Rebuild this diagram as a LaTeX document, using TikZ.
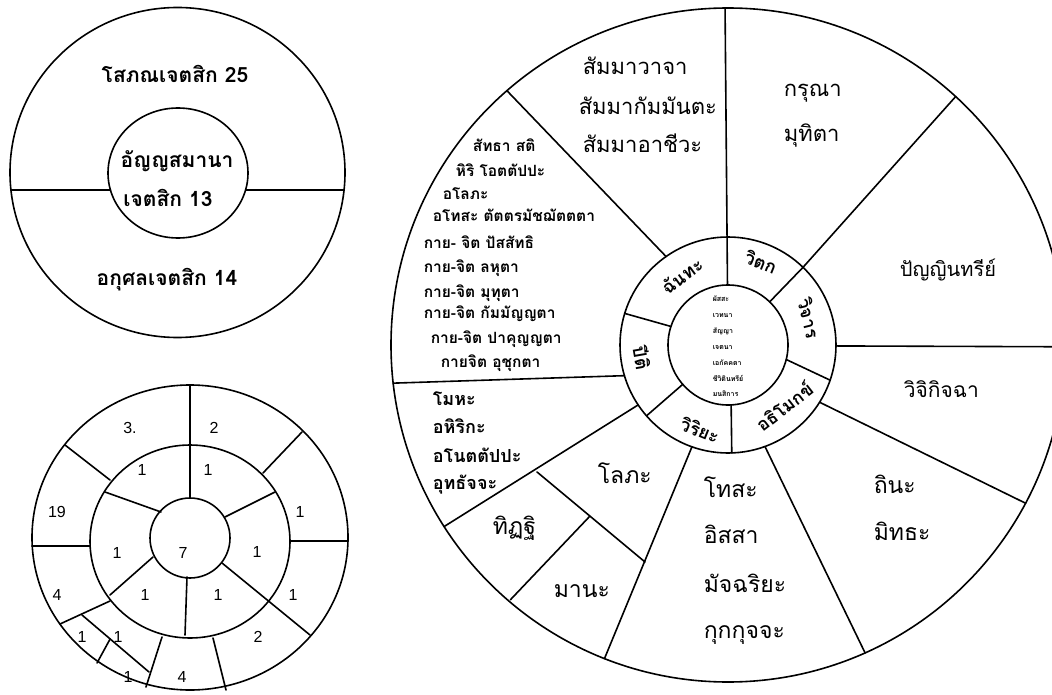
\documentclass[tikz,border=0pt]{standalone}
\usepackage{fontspec}
\newfontfamily\thai[Script=Thai]{Loma}
\newfontfamily\numf{Liberation Sans}
\usetikzlibrary{calc}
\begin{document}
\begin{tikzpicture}[x=1pt,y=-1pt,line width=1.6pt,line cap=round,
  tl/.style={inner sep=0pt,anchor=base,font=\thai\bfseries\fontsize{21}{23}\selectfont},
  bigl/.style={inner sep=0pt,anchor=base west,font=\thai\fontsize{22}{24}\selectfont},
  midl/.style={inner sep=0pt,anchor=base west,font=\thai\fontsize{23}{25}\selectfont},
  mohl/.style={inner sep=0pt,anchor=base west,font=\thai\bfseries\fontsize{18}{20}\selectfont},
  smal/.style={inner sep=0pt,anchor=base west,font=\thai\bfseries\fontsize{15.5}{18}\selectfont},
  ringl/.style={inner sep=0pt,font=\thai\bfseries\fontsize{18}{20}\selectfont},
  tiny/.style={inner sep=0pt,anchor=base west,font=\thai\bfseries\fontsize{7}{8}\selectfont},
  num/.style={inner sep=0pt,font=\numf\fontsize{16}{18}\selectfont}]
\useasboundingbox (0,0) rectangle (1052,695);
\clip (0,0) rectangle (1052,695);

% ---------- top-left circle ----------
\coordinate (TA) at (177.5,172.5);
\coordinate (TB) at (178,173);
\draw (TA) circle [x radius=167.5pt, y radius=165pt];
\draw (TB) circle [x radius=70pt, y radius=65pt];
\coordinate (h1) at (10.9,190); \coordinate (h2) at (110.4,190);
\coordinate (h3) at (245.6,190); \coordinate (h4) at (344.1,190);
\draw (h1) -- (h2); \draw (h3) -- (h4);
\node[tl] (sobhana) at (175,83) {โสภณเจตสิก 25};
\node[tl] (anna1) at (177,168) {อัญญสมานา};
\node[tl] (anna2) at (168,207) {เจตสิก 13};
\node[tl] (akusala) at (167,285) {อกุศลเจตสิก 14};

% ---------- bottom-left wheel ----------
\draw (190,537.5) circle [x radius=158pt, y radius=152.5pt];
\draw (190,541.5) circle [x radius=100pt, y radius=96.5pt];
\draw (190,538) circle (40pt);
\draw (190,385) -- (190,498);
\draw (225,517) -- (275,492);
\draw (302,432) -- (263,473);
\draw (161,512) -- (105,492);
\draw (65,445) -- (110,480);
\draw (290,541) -- (348,541);
\draw (32,546) -- (90,546);
\draw (153,557) -- (110,595);
\draw (187,577) -- (185,635);
\draw (222,563) -- (310,635);
\draw (213,638) -- (226,690);
\draw (162,637) -- (146,687);
\draw (60,624) -- (110,601);
\coordinate (d1) at (82,615); \coordinate (d2) at (149,672);
\draw (d1) -- (d2);
\draw ($(d1)!0.42!(d2)$) -- (97,663);
\node[num] (n3) at (130,428) {3.};
\node[num] (n2a) at (214,428) {2};
\node[num] (n1a) at (142,470) {1};
\node[num] (n1b) at (208,470) {1};
\node[num] (n19) at (57,512) {19};
\node[num] (n1c) at (300,512) {1};
\node[num] (n1d) at (117,553) {1};
\node[num] (n7) at (183,553) {7};
\node[num] (n1e) at (257,552) {1};
\node[num] (n4a) at (57,595) {4};
\node[num] (n1f) at (145,595) {1};
\node[num] (n1g) at (218,595) {1};
\node[num] (n1h) at (293,595) {1};
\node[num] (n1i) at (82,637) {1};
\node[num] (n1j) at (118,637) {1};
\node[num] (n2b) at (258,637) {2};
\node[num] (n1k) at (128,677) {1};
\node[num] (n4b) at (182,677) {4};

% ---------- big wheel ----------
\coordinate (B) at (728,345);
\draw (B) circle (337pt);
\draw (B) circle (108pt);
\draw (B) circle (60pt);
% outer ring spokes
\draw ($(B)+(-90.5:60)$) -- ($(B)+(-90.5:337)$);
\draw ($(B)+(-46:108)$) -- ($(B)+(-47.5:337)$);
\draw ($(B)+(0.5:108)$) -- ($(B)+(0.3:345)$);
\draw ($(B)+(32:108)$) -- ($(B)+(28:337)$);
\draw ($(B)+(70:108)$) -- ($(B)+(66:337)$);
\draw ($(B)+(109.5:108)$) -- ($(B)+(111.5:337)$);
\draw ($(B)+(146.3:108)$) -- ($(B)+(147.4:337)$);
\draw ($(B)+(163.5:108)$) -- ($(B)+(173.5:337)$);
\draw ($(B)+(-125:108)$) -- ($(B)+(-131:337)$);
\coordinate (sa1) at (537,472); \coordinate (sa2) at (645,562);
\draw (sa1) -- (sa2);
\draw ($(sa1)!0.49!(sa2)$) -- ($(B)+(130.5:335)$);
% middle ring spokes
\draw ($(B)+(-46:60)$) -- ($(B)+(-46:108)$);
\draw ($(B)+(14:60)$) -- ($(B)+(19:108)$);
\draw ($(B)+(87:60)$) -- ($(B)+(88:108)$);
\draw ($(B)+(139:60)$) -- ($(B)+(139:108)$);
\draw ($(B)+(-162:60)$) -- ($(B)+(-163:108)$);
% ring labels
\node[ringl,rotate=36] (chanda) at (682,276) {ฉันทะ};
\node[ringl,rotate=-22] (vitakka) at (761,262) {วิตก};
\node[ringl,rotate=-76] (vicara) at (809,318) {วิจาร};
\node[ringl,rotate=38] (adhimokkha) at (784,406) {อธิโมกข์};
\node[ringl,rotate=-22] (viriya) at (700,430) {วิริยะ};
\node[ringl,rotate=-80] (piti) at (642,358) {ปีติ};
% inner text
\node[tiny] (i1) at (712,301) {ผัสสะ};
\node[tiny] (i2) at (712,317) {เวทนา};
\node[tiny] (i3) at (712,333) {สัญญา};
\node[tiny] (i4) at (712,349) {เจตนา};
\node[tiny] (i5) at (712,365) {เอกัคคตา};
\node[tiny] (i6) at (712,381) {ชีวิตินทรีย์};
\node[tiny] (i7) at (712,396) {มนสิการ};
% outer labels
\node[bigl] (v1) at (582,75) {สัมมาวาจา};
\node[bigl] (v2) at (578,115) {สัมมากัมมันตะ};
\node[bigl] (v3) at (582,153) {สัมมาอาชีวะ};
\node[bigl] (k1) at (783,97) {กรุณา};
\node[bigl] (k2) at (783,142) {มุทิตา};
\node[bigl,anchor=base,font=\thai\fontsize{20}{22}\selectfont] (panna) at (948,276) {ปัญญินทรีย์};
\node[midl,font=\thai\fontsize{21}{23}\selectfont] (vici) at (903,397) {วิจิกิจฉา};
\node[midl] (thina) at (873,493) {ถินะ};
\node[midl] (middha) at (873,540) {มิทธะ};
\node[midl] (dosa) at (703,497) {โทสะ};
\node[midl] (issa) at (703,543) {อิสสา};
\node[midl] (macch) at (703,592) {มัจฉริยะ};
\node[midl] (kukk) at (703,638) {กุกกุจจะ};
\node[midl] (lobha) at (597,483) {โลภะ};
\node[midl] (ditthi) at (492,534) {ทิฏฐิ};
\node[midl] (mana) at (553,597) {มานะ};
\node[mohl] (m1) at (432,405) {โมหะ};
\node[mohl] (m2) at (432,433) {อหิริกะ};
\node[mohl] (m3) at (432,462) {อโนตตัปปะ};
\node[mohl] (m4) at (432,489) {อุทธัจจะ};
\node[smal] (s1) at (472,152) {สัทธา สติ};
\node[smal] (s2) at (455,177) {หิริ โอตตัปปะ};
\node[smal] (s3) at (442,200) {อโลภะ};
\node[smal] (s4) at (432,222) {อโทสะ ตัตตรมัชฌัตตตา};
\node[smal] (s5) at (423,248) {กาย- จิต ปัสสัทธิ};
\node[smal] (s6) at (423,272) {กาย-จิต ลหุตา};
\node[smal] (s7) at (423,297) {กาย-จิต มุทุตา};
\node[smal] (s8) at (423,318) {กาย-จิต กัมมัญญตา};
\node[smal] (s9) at (430,343) {กาย-จิต ปาคุญญตา};
\node[smal] (s10) at (440,367) {กายจิต อุชุกตา};
\end{tikzpicture}
\end{document}
